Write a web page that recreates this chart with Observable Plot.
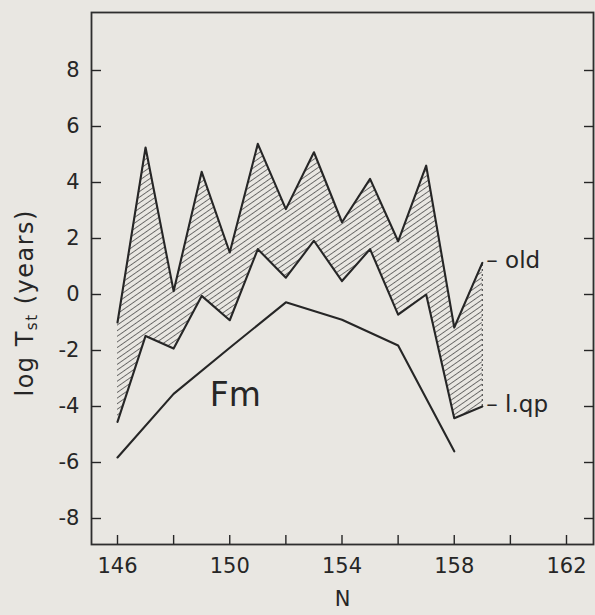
<!DOCTYPE html>
<html>
<head>
<meta charset="utf-8">
<script src="https://cdn.jsdelivr.net/npm/d3@7"></script>
<script src="https://cdn.jsdelivr.net/npm/@observablehq/plot@0.6"></script>
<style>
html, body { margin: 0; padding: 0; background: #e9e7e2; }
#chart svg { display: block; }
</style>
</head>
<body>
<div id="chart"></div>
<script>
// Neutron number N for the two zigzag curves
const N = [146, 147, 148, 149, 150, 151, 152, 153, 154, 155, 156, 157, 158, 159];
// "old" curve (upper zigzag), log T_st in years
const oldVals = [-1.0, 5.25, 0.12, 4.38, 1.5, 5.38, 3.05, 5.08, 2.58, 4.13, 1.9, 4.6, -1.18, 1.13];
// "l.qp" curve (lower zigzag)
const lqpVals = [-4.55, -1.48, -1.93, -0.05, -0.92, 1.62, 0.6, 1.92, 0.48, 1.62, -0.72, 0.0, -4.42, -4.0];
// Fm curve
const fmN = [146, 148, 150, 152, 154, 156, 158];
const fmVals = [-5.82, -3.55, -1.9, -0.28, -0.9, -1.82, -5.6];
// Fm annotation position
const fmLabelN = [150.2];
const fmLabelV = [-3.6];
// axis ticks
const yTicks = [-8, -6, -4, -2, 0, 2, 4, 6, 8];
const xTicksMinor = [146, 148, 150, 152, 154, 156, 158, 160, 162];
const xTickLabels = [146, 150, 154, 158, 162];
const yLabel = "log Tst (years)";
const xLabel = "N";

const band = N.map((n, i) => ({N: n, old: oldVals[i], lqp: lqpVals[i]}));
const fm = fmN.map((n, i) => ({N: n, v: fmVals[i]}));
const fmLabel = fmLabelN.map((n, i) => ({N: n, v: fmLabelV[i], t: "Fm"}));

const ink = "#262626";
const font = "'DejaVu Sans', sans-serif";

const plot = Plot.plot({
  width: 595,
  height: 615,
  marginTop: 12,
  marginBottom: 71,
  marginLeft: 91,
  marginRight: 2,
  style: {background: "#e9e7e2", fontFamily: font, fontSize: "21px", color: ink},
  x: {domain: [146, 162], range: [117, 566]},
  y: {domain: [-8, 8], range: [518, 70]},
  marks: [
    Plot.areaY(band, {x: "N", y1: "lqp", y2: "old", fill: "url(#hatch)", curve: "linear"}),
    Plot.ruleX(band.slice(-1), {x: "N", y1: "lqp", y2: "old", stroke: "#555", strokeWidth: 1.3, strokeDasharray: "2,3"}),
    Plot.line(band, {x: "N", y: "old", stroke: ink, strokeWidth: 2.1}),
    Plot.line(band, {x: "N", y: "lqp", stroke: ink, strokeWidth: 2.1}),
    Plot.line(fm, {x: "N", y: "v", stroke: ink, strokeWidth: 2.1}),
    Plot.text(band, Plot.selectLast({x: "N", y: "old", text: () => "– old", textAnchor: "start", dx: 4, dy: -2, fontSize: 23, fill: ink})),
    Plot.text(band, Plot.selectLast({x: "N", y: "lqp", text: () => "– l.qp", textAnchor: "start", dx: 4, dy: -2, fontSize: 23, fill: ink})),
    Plot.text(fmLabel, {x: "N", y: "v", text: "t", fontSize: 33, fill: ink}),
    Plot.frame({stroke: "#2e2e2e", strokeWidth: 1.8}),
    Plot.axisY({ticks: yTicks, anchor: "left", tickSize: -10, tickPadding: 22, tickFormat: d => String(d), label: null, strokeWidth: 1.4, fill: ink}),
    Plot.axisY({ticks: yTicks, anchor: "right", tickSize: -10, tickFormat: () => "", label: null, strokeWidth: 1.4}),
    Plot.axisX({ticks: xTicksMinor, anchor: "bottom", tickSize: -9, tickFormat: () => "", label: null, strokeWidth: 1.4}),
    Plot.axisX({ticks: xTickLabels, anchor: "bottom", tickSize: 0, tickPadding: 14, tickFormat: d => String(d), label: null, fill: ink}),
    Plot.text([xLabel], {frameAnchor: "bottom", dy: 61, fontSize: 21, fill: ink}),
    Plot.text([yLabel], {frameAnchor: "left", dx: -66, dy: 118, rotate: -90, textAnchor: "start", fontSize: 24, fill: ink})
  ]
});

// hatch pattern for the band between the curves
const ns = "http://www.w3.org/2000/svg";
const defs = document.createElementNS(ns, "defs");
defs.innerHTML = '<pattern id="hatch" patternUnits="userSpaceOnUse" width="4.6" height="4.6" patternTransform="rotate(-35)">' +
  '<path d="M0,2.3 H4.6" stroke="#444" stroke-width="0.9" stroke-opacity="0.8"/></pattern>';
plot.insertBefore(defs, plot.firstChild);

// subscript "st" in the y label
plot.querySelectorAll("text").forEach(t => {
  if (t.textContent === yLabel) {
    t.textContent = "";
    t.setAttribute("letter-spacing", "1.5");
    const a = document.createElementNS(ns, "tspan"); a.textContent = "log T"; t.appendChild(a);
    const b = document.createElementNS(ns, "tspan"); b.textContent = "st"; b.setAttribute("font-size", "15"); b.setAttribute("dy", "4"); t.appendChild(b);
    const c = document.createElementNS(ns, "tspan"); c.textContent = " (years)"; c.setAttribute("dy", "-4"); t.appendChild(c);
  }
});

document.getElementById("chart").appendChild(plot);
</script>
</body>
</html>
